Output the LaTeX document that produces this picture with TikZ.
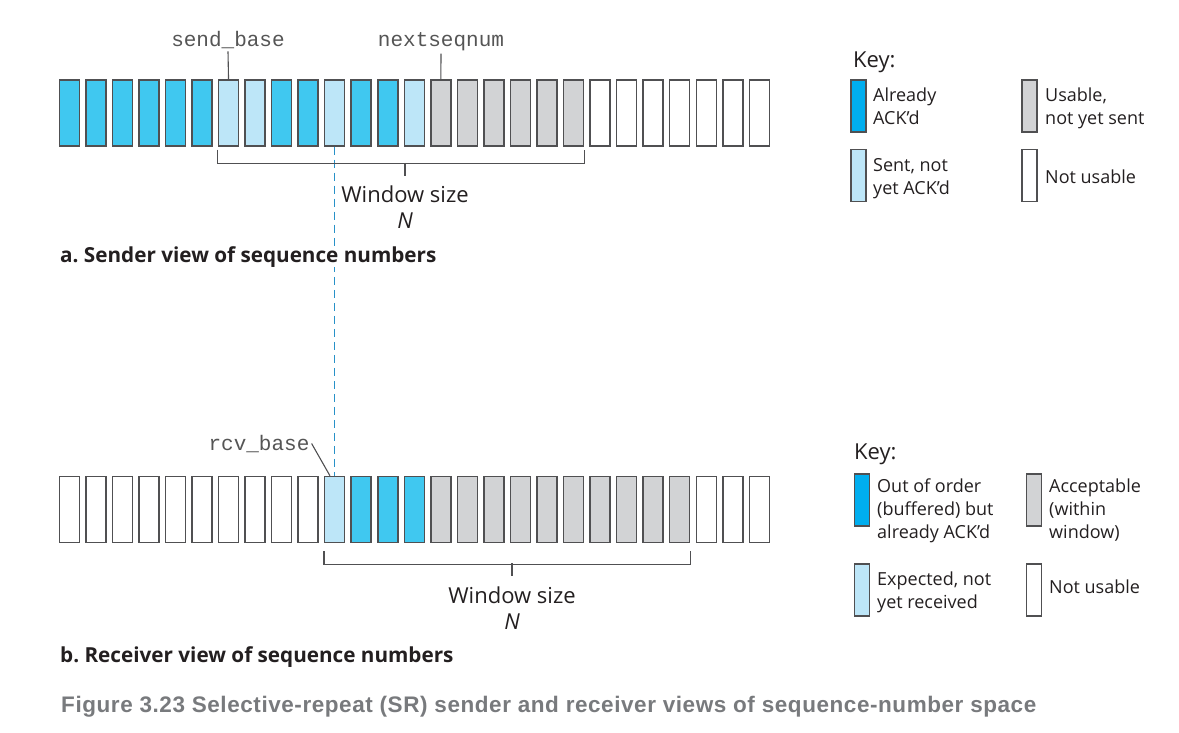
\documentclass[tikz,border=0pt]{standalone}
\usepackage{fontspec}
\setmainfont{Open Sans}
\setmonofont{Liberation Mono}
\newfontfamily\capfont[LetterSpace=2.5]{Liberation Sans}
\usetikzlibrary{calc}
\definecolor{ackblue}{RGB}{64,200,240}
\definecolor{sentblue}{RGB}{189,230,248}
\definecolor{usegray}{RGB}{210,211,213}
\definecolor{keyblue}{RGB}{0,174,239}
\definecolor{edgegray}{RGB}{80,80,82}
\definecolor{ptrgray}{RGB}{85,85,85}
\definecolor{txtgray}{RGB}{35,31,32}
\definecolor{dashblue}{RGB}{40,145,200}
\definecolor{capgray}{RGB}{120,122,125}
\frenchspacing

\begin{document}
\begin{tikzpicture}
  [x=1pt,y=-1pt,every node/.style={text=txtgray},
   seq/.style={draw=edgegray,line width=1.5pt,minimum width=20pt,minimum height=66pt,inner sep=0pt},
   swatch/.style={draw=edgegray,line width=1.4pt,minimum width=15pt,minimum height=52pt,inner sep=0pt},
   ptr/.style={anchor=base,inner sep=2pt,text=ptrgray,font=\ttfamily\fontsize{21}{21}\selectfont},
   keytext/.style={align=left,inner sep=0pt,font=\fontsize{18}{23}\selectfont},
   keyhead/.style={anchor=base west,inner sep=0pt,font=\fontsize{22}{22}\selectfont},
   wintext/.style={anchor=base,inner sep=0pt,font=\fontsize{22}{22}\selectfont},
   heading/.style={anchor=base west,inner sep=0pt,fill=white,font=\bfseries\fontsize{20.7}{20.7}\selectfont},
   bracket/.style={draw=edgegray,line width=1.1pt}]

  \useasboundingbox (0,0) rectangle (1179,733);

  % sender row
  \foreach \c [count=\i] in {ackblue,ackblue,ackblue,ackblue,ackblue,ackblue,sentblue,sentblue,ackblue,ackblue,sentblue,ackblue,ackblue,sentblue,usegray,usegray,usegray,usegray,usegray,usegray,white,white,white,white,white,white,white}
    \node[seq,fill=\c] (s\i) at ({69.3+26.54*(\i-1)},113) {};

  % receiver row
  \foreach \c [count=\i] in {white,white,white,white,white,white,white,white,white,white,sentblue,ackblue,ackblue,ackblue,usegray,usegray,usegray,usegray,usegray,usegray,usegray,usegray,usegray,usegray,white,white,white}
    \node[seq,fill=\c] (r\i) at ({69.3+26.54*(\i-1)},509.5) {};

  % shared base
  \draw[dashblue,line width=1.3pt,dash pattern=on 8pt off 5pt] (s11.south) -- (r11.north);

  % pointers
  \node[ptr] (sb) at (228,47) {send\_base};
  \node[ptr] (nsn) at (441,47) {nextseqnum};
  \node[ptr] (rb) at (259,450) {rcv\_base};
  \draw[edgegray,line width=1.1pt] (sb.south) -- (s7.north);
  \draw[edgegray,line width=1.1pt] (nsn.south) -- (s15.north);
  \draw[edgegray,line width=1.1pt] (rb.east) -- ([xshift=6pt]r11.north west);

  % windows
  \draw[bracket] ([yshift=-3pt]s7.south west) |- ([yshift=-17pt]s20.south east) -- ([yshift=-3pt]s20.south east);
  \coordinate (sw) at (405,163);
  \coordinate (swt) at (405,176);
  \draw[bracket] (sw) -- (swt);
  \node[wintext] (sws) at (405,203) {Window size};
  \node[wintext] (swn) at (405,229) {\itshape N};

  \draw[bracket] ([yshift=-8pt]r11.south west) |- ([yshift=-21pt]r24.south east) -- ([yshift=-8pt]r24.south east);
  \coordinate (rw) at (512,563);
  \coordinate (rwt) at (512,576);
  \draw[bracket] (rw) -- (rwt);
  \node[wintext] (rws) at (512,603) {Window size};
  \node[wintext] (rwn) at (512,629) {\itshape N};

  \node[heading] (ha) at (60,262) {a. Sender view of sequence numbers};
  \node[heading] (hb) at (60,662) {b. Receiver view of sequence numbers};

  % sender key
  \node[keyhead] (sk) at (853,68) {Key:};
  \node[swatch,fill=keyblue] (sk1) at (858.5,106) {};
  \node[keytext,anchor=north west] (sk1t) at (873,88) {Already\\ACK'd};
  \node[swatch,fill=usegray] (sk2) at (1029.5,106) {};
  \node[keytext,anchor=north west] (sk2t) at (1045,88) {Usable,\\not yet sent};
  \node[swatch,fill=sentblue] (sk3) at (858.5,175.5) {};
  \node[keytext,anchor=north west] (sk3t) at (873,158) {Sent, not\\yet ACK'd};
  \node[swatch,fill=white] (sk4) at (1029.5,175.5) {};
  \node[keytext,anchor=west] (sk4t) at (1045,177) {Not usable};

  % receiver key
  \node[keyhead] (rk) at (854,459) {Key:};
  \node[swatch,fill=keyblue] (rk1) at (862,500) {};
  \node[keytext,anchor=north west] (rk1t) at (877,479) {Out of order\\(buffered) but\\already ACK'd};
  \node[swatch,fill=usegray] (rk2) at (1034,500) {};
  \node[keytext,anchor=north west] (rk2t) at (1049,479) {Acceptable\\(within\\window)};
  \node[swatch,fill=sentblue] (rk3) at (862,590) {};
  \node[keytext,anchor=north west] (rk3t) at (877,572) {Expected, not\\yet received};
  \node[swatch,fill=white] (rk4) at (1034,590) {};
  \node[keytext,anchor=west] (rk4t) at (1049,587) {Not usable};

  % caption
  \node[anchor=base west,inner sep=0pt,text=capgray,font=\capfont\bfseries\fontsize{22.5}{22.5}\selectfont] (cap) at (61,712) {Figure 3.23 Selective-repeat (SR) sender and receiver views of sequence-number space};
\end{tikzpicture}
\end{document}
